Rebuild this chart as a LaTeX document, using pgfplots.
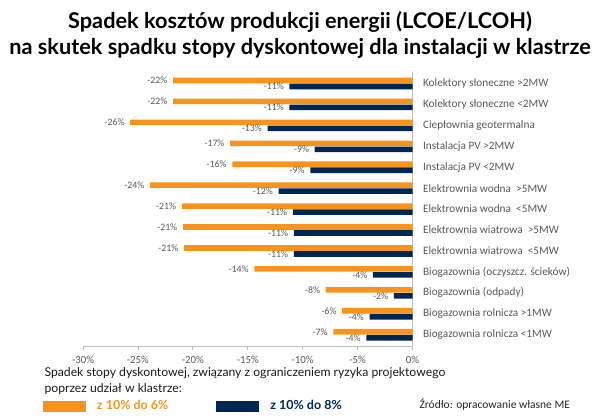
\documentclass[border=0pt]{standalone}
\usepackage{fontspec}
\setmainfont{Lato}
\newfontfamily\carl{Carlito}
\usepackage{pgfplots}
\pgfplotsset{compat=1.18}
\usepackage{pgfplotstable}
\definecolor{orng}{RGB}{247,148,29}
\definecolor{navy}{RGB}{0,38,84}
\definecolor{txtgray}{RGB}{89,89,89}
\definecolor{axgray}{RGB}{191,191,191}

\pgfplotstableread{
y o n
12 -21.8 -11.2
11 -21.8 -11.2
10 -25.7 -13.2
9 -16.6 -8.9
8 -16.4 -9.3
7 -23.9 -12.2
6 -21.0 -10.9
5 -20.9 -10.8
4 -20.8 -10.8
3 -14.4 -3.6
2 -7.9 -1.7
1 -6.4 -3.9
0 -7.2 -4.2
}\data

\begin{document}
\begin{tikzpicture}[x=1pt,y=1pt]
\useasboundingbox (0,0) rectangle (600,-418);
\node[anchor=base, font=\fontsize{21.7}{24}\selectfont\bfseries] at (300,-28) {Spadek kosztów produkcji energii (LCOE/LCOH)};
\node[anchor=base, font=\fontsize{21.7}{24}\selectfont\bfseries] at (300,-54) {na skutek spadku stopy dyskontowej dla instalacji w klastrze};
\begin{axis}[
  at={(83pt,-72pt)}, anchor=north west,
  scale only axis, width=329.5pt, height=274pt,
  xmin=-30, xmax=0, ymin=-0.54, ymax=12.55,
  axis x line*=bottom, axis y line*=right,
  axis line style={axgray, line width=0.8pt},
  xtick={-30,-25,-20,-15,-10,-5,0},
  xticklabel={\pgfmathprintnumber{\tick}\%},
  xticklabel style={yshift=-2.5pt},
  tick align=outside,
  x tick style={axgray, line width=0.8pt},
  major tick length=4pt,
  ytick={0,...,12},
  yticklabels={Biogazownia rolnicza <1MW, Biogazownia rolnicza >1MW, Biogazownia (odpady), Biogazownia (oczyszcz. ścieków), Elektrownia wiatrowa \ <5MW, Elektrownia wiatrowa \ >5MW, Elektrownia wodna \ <5MW, Elektrownia wodna \ >5MW, Instalacja PV <2MW, Instalacja PV >2MW, Ciepłownia geotermalna, Kolektory słoneczne <2MW, Kolektory słoneczne >2MW},
  y tick style={draw=none},
  yticklabel style={anchor=west, xshift=3pt, font=\carl\fontsize{11.3}{13}\selectfont},
  xticklabel style={font=\carl\fontsize{10.8}{12}\selectfont},
  ticklabel style={text=txtgray},
  /pgf/number format/assume math mode=true,
  xbar, bar width=5.6pt,
  point meta=x,
  nodes near coords={\pgfmathprintnumber[fixed,precision=0,assume math mode=true]{\pgfplotspointmeta}\%},
  every node near coord/.append style={anchor=east, xshift=-5pt, font=\carl\fontsize{9.8}{11}\selectfont, text=txtgray, inner sep=0.5pt},
  legend style={at={(-0.1214,-0.219)}, anchor=west, legend columns=2, draw=none, fill=none, inner sep=0pt, outer sep=0pt,
    /tikz/every odd column/.style={column sep=11pt},
    /tikz/every even column/.style={column sep=48pt},
    nodes={inner sep=0pt},
    font=\bfseries\fontsize{12.5}{14}\selectfont},
  legend cell align=left,
  legend image code/.code={\fill[#1] (0pt,-5.5pt) rectangle (43pt,5.5pt);},
  clip=false,
]
\addplot[fill=orng, draw=none, bar shift=3pt] table[x=o, y=y] {\data};
\addlegendentry{\textcolor{orng}{z 10\% do 6\%}}
\addplot[fill=navy, draw=none, bar shift=-3pt] table[x=n, y=y] {\data};
\addlegendentry{\textcolor{navy}{z 10\% do 8\%}}
\end{axis}
\node[anchor=west, font=\fontsize{12.2}{14}\selectfont, text=black!90] at (41,-373) {Spadek stopy dyskontowej, związany z ograniczeniem ryzyka projektowego};
\node[anchor=west, font=\fontsize{12.2}{14}\selectfont, text=black!90] at (41,-389) {poprzez udział w klastrze:};
\node[anchor=west, font=\carl\fontsize{11.5}{13}\selectfont, text=black!85] at (416,-405) {Źródło: opracowanie własne ME};
\end{tikzpicture}
\end{document}
